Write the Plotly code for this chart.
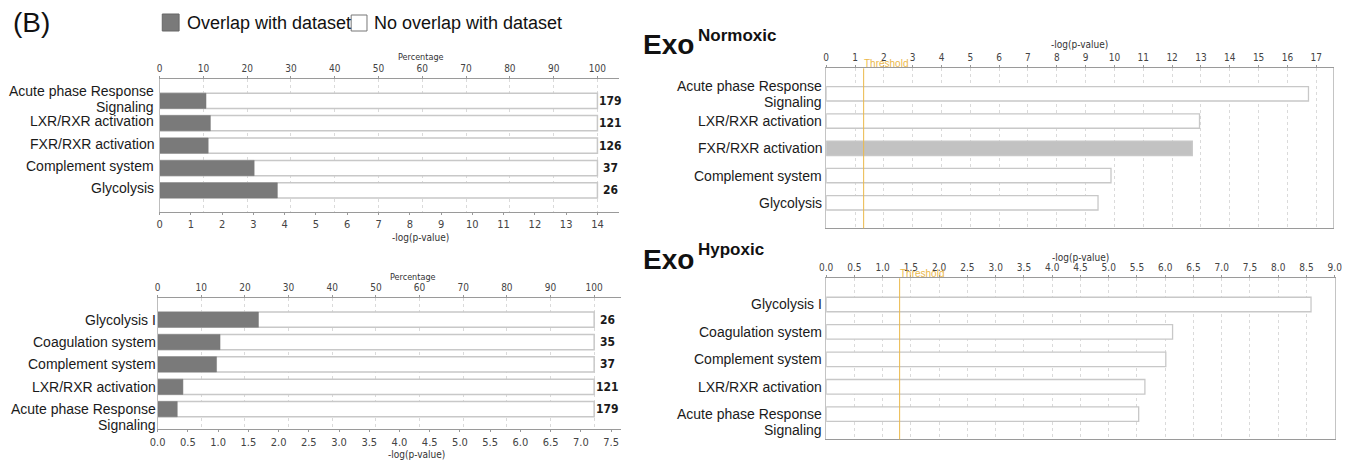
import plotly.graph_objects as go

W, H = 1360, 462

# ---------------- data ----------------
tl_pathways = ["Acute phase Response<br>Signaling", "LXR/RXR activation",
               "FXR/RXR activation", "Complement system", "Glycolysis"]
tl_overlap_pct = [10.6, 11.6, 11.1, 21.6, 26.9]
tl_totals = [179, 121, 126, 37, 26]

bl_pathways = ["Glycolysis I", "Coagulation system", "Complement system",
               "LXR/RXR activation", "Acute phase Response<br>Signaling"]
bl_overlap_pct = [23.1, 14.3, 13.5, 5.8, 4.5]
bl_totals = [26, 35, 37, 121, 179]

nor_pathways = ["Acute phase Response<br>Signaling", "LXR/RXR activation",
                "FXR/RXR activation", "Complement system", "Glycolysis"]
nor_logp = [16.73, 12.95, 12.70, 9.88, 9.43]
nor_highlight = "FXR/RXR activation"

hyp_pathways = ["Glycolysis I", "Coagulation system", "Complement system",
                "LXR/RXR activation", "Acute phase Response<br>Signaling"]
hyp_logp = [8.58, 6.13, 6.01, 5.64, 5.53]

threshold_logp = 1.3
full_pct = 100

pct_ticks = [0, 10, 20, 30, 40, 50, 60, 70, 80, 90, 100]
tl_logp_ticks = [0, 1, 2, 3, 4, 5, 6, 7, 8, 9, 10, 11, 12, 13, 14]
bl_logp_ticks = [0.0, 0.5, 1.0, 1.5, 2.0, 2.5, 3.0, 3.5, 4.0, 4.5, 5.0, 5.5, 6.0, 6.5, 7.0, 7.5]
nor_ticks = [0, 1, 2, 3, 4, 5, 6, 7, 8, 9, 10, 11, 12, 13, 14, 15, 16, 17]
hyp_ticks = [0.0, 0.5, 1.0, 1.5, 2.0, 2.5, 3.0, 3.5, 4.0, 4.5, 5.0, 5.5, 6.0, 6.5, 7.0, 7.5, 8.0, 8.5, 9.0]

legend_labels = ["Overlap with dataset", "No overlap with dataset"]

# ---------------- style ----------------
ARIAL = "Liberation Sans, Arial, sans-serif"
NARROW = "Liberation Sans Narrow, Arial Narrow, DejaVu Sans Condensed, Liberation Sans, Arial, sans-serif"
LABEL_FONT = dict(family=ARIAL, size=14, color="#1a1a1a")
TICK_FONT = dict(family=NARROW, size=10, color="#444444")
TICK_FONT_B = dict(family=NARROW, size=11, color="#444444")
GRAY_BAR = "#7a7a7a"
BAR_EDGE = "#c8c8c8"
HILITE = "#c2c2c2"
THR_COLOR = "#ebb84a"


def xd(a, b):
    return [a / W, b / W]


def yd(top, bottom):
    return [1 - bottom / H, 1 - top / H]


fig = go.Figure()
annotations = []
shapes = []


def overlap_panel(pathways, pct, xref_pct, xref_logp, yref):
    fig.add_trace(go.Bar(x=[full_pct] * len(pathways), y=pathways, orientation="h",
                         xaxis=xref_pct, yaxis=yref, width=0.68,
                         marker=dict(color="white", line=dict(color=BAR_EDGE, width=1.5)),
                         name=legend_labels[1], showlegend=False, hoverinfo="skip"))
    fig.add_trace(go.Bar(x=pct, y=pathways, orientation="h",
                         xaxis=xref_pct, yaxis=yref, width=0.68,
                         marker=dict(color=GRAY_BAR, line=dict(color=GRAY_BAR, width=0.5)),
                         name=legend_labels[0], showlegend=False))
    # empty placeholder so the -log(p-value) scale axis is drawn (no visible mark)
    fig.add_trace(go.Scatter(x=[None], y=[None], xaxis=xref_logp, yaxis=yref,
                             mode="markers", showlegend=False, hoverinfo="skip"))


overlap_panel(tl_pathways, tl_overlap_pct, "x", "x2", "y")
overlap_panel(bl_pathways, bl_overlap_pct, "x3", "x4", "y2")

# ---- Top-right: Exo normoxic ----
fig.add_trace(go.Bar(x=nor_logp, y=nor_pathways, orientation="h",
                     xaxis="x5", yaxis="y3", width=0.53,
                     marker=dict(color=[HILITE if p == nor_highlight else "white" for p in nor_pathways],
                                 line=dict(color=BAR_EDGE, width=1.3)),
                     showlegend=False))

# ---- Bottom-right: Exo hypoxic ----
fig.add_trace(go.Bar(x=hyp_logp, y=hyp_pathways, orientation="h",
                     xaxis="x6", yaxis="y4", width=0.53,
                     marker=dict(color="white", line=dict(color=BAR_EDGE, width=1.3)),
                     showlegend=False))

# ---------------- axes ----------------
common_x = dict(ticks="outside", ticklen=2, tickcolor="#999999", showline=True,
                linecolor="#9a9a9a", linewidth=1.2, zeroline=False, fixedrange=True)
grid = dict(showgrid=True, gridcolor="#dadada", griddash="dot", gridwidth=1)
nogrid = dict(showgrid=False)

TL = dict(x0=153.3, x1=618.0, top=79.3, bottom=211.7)
BL = dict(x0=151.3, x1=620.0, top=298.3, bottom=429.3)
TR = dict(x0=827.3, x1=1340.0, top=68.3, bottom=228.3)
BR = dict(x0=827.3, x1=1342.3, top=278.3, bottom=439.3)

tl_pct_max = (TL["x1"] - TL["x0"]) / 4.427
bl_pct_max = (BL["x1"] - BL["x0"]) / 4.414


def ycat(panel, anchor, cats, rng, mirror=False, color="#bdbdbd"):
    return dict(domain=yd(panel["top"], panel["bottom"]), anchor=anchor, type="category",
                categoryorder="array", categoryarray=cats, range=rng,
                showticklabels=False, ticks="", showgrid=False, zeroline=False,
                showline=True, mirror=mirror, linecolor=color, linewidth=1, fixedrange=True)


layout = dict(
    width=W, height=H, margin=dict(l=0, r=0, t=0, b=0, pad=0),
    paper_bgcolor="white", plot_bgcolor="white", barmode="overlay",
    showlegend=False,
    # top-left: percentage (top) + -log(p) (bottom)
    xaxis=dict(domain=xd(TL["x0"], TL["x1"]), anchor="y", side="top",
               range=[0, tl_pct_max], tickvals=pct_ticks, tickfont=TICK_FONT, **common_x, **grid),
    xaxis2=dict(domain=xd(TL["x0"], TL["x1"]), overlaying="x", anchor="y", side="bottom",
                range=[0, tl_pct_max * 0.14], tickvals=tl_logp_ticks, tickfont=TICK_FONT_B,
                **common_x, **nogrid),
    yaxis=ycat(TL, "x", tl_pathways, [4.95, -0.96]),
    # bottom-left
    xaxis3=dict(domain=xd(BL["x0"], BL["x1"]), anchor="y2", side="top",
                range=[0, bl_pct_max], tickvals=pct_ticks, tickfont=TICK_FONT, **common_x, **grid),
    xaxis4=dict(domain=xd(BL["x0"], BL["x1"]), overlaying="x3", anchor="y2", side="bottom",
                range=[0, bl_pct_max * 0.0722], tickvals=bl_logp_ticks, tickformat=".1f",
                tickfont=TICK_FONT_B, **common_x, **nogrid),
    yaxis2=ycat(BL, "x3", bl_pathways, [4.90, -0.956]),
    # top-right
    xaxis5=dict(domain=xd(TR["x0"], TR["x1"]), anchor="y3", side="top",
                range=[0, (TR["x1"] - TR["x0"]) / 29.15], tickvals=nor_ticks,
                tickfont=TICK_FONT, mirror=True, **common_x, **grid),
    yaxis3=ycat(TR, "x5", nor_pathways, [4.936, -0.936], True, "#c4c4c4"),
    # bottom-right
    xaxis6=dict(domain=xd(BR["x0"], BR["x1"]), anchor="y4", side="top",
                range=[0, (BR["x1"] - BR["x0"]) / 57.14], tickvals=hyp_ticks, tickformat=".1f",
                tickfont=TICK_FONT, mirror=True, **common_x, **grid),
    yaxis4=ycat(BR, "x6", hyp_pathways, [4.915, -0.955], True, "#c4c4c4"),
)


# ---------------- category labels ----------------
def label_annots(pathways, yref, right_px, mode, shift=0.0):
    for i, lab in enumerate(pathways):
        lines = lab.split("<br>")
        n = len(lines)
        for k, line in enumerate(lines):
            if mode == "center":
                off = (k - (n - 1) / 2.0) * 16 + shift
            else:
                off = k * 16 + shift
            annotations.append(dict(xref="paper", x=right_px / W, xanchor="right",
                                    yref=yref, y=i, yanchor="middle", yshift=-off,
                                    text=line, showarrow=False, font=LABEL_FONT,
                                    borderpad=0))


label_annots(tl_pathways, "y", 149.0, "center", -2)
label_annots(bl_pathways, "y2", 150.5, "first", 0)
label_annots(nor_pathways, "y3", 824.0, "center", 0)
label_annots(hyp_pathways, "y4", 824.5, "first", 0)

# gene totals at bar ends
for xref, yref, totals in (("x", "y", tl_totals), ("x3", "y2", bl_totals)):
    for i, t in enumerate(totals):
        annotations.append(dict(xref=xref, x=full_pct, xanchor="center", xshift=13.5,
                                yref=yref, y=i, yanchor="middle", text="<b>%d</b>" % t,
                                showarrow=False, borderpad=0,
                                font=dict(family=NARROW, size=12, color="#1a1a1a")))


# axis titles
def small_title(text, x_px, y_px, size=10):
    annotations.append(dict(xref="paper", yref="paper", x=x_px / W, y=1 - y_px / H,
                            xanchor="center", yanchor="middle", text=text, showarrow=False,
                            borderpad=0, font=dict(family=NARROW, size=size, color="#333333")))


small_title("Percentage", 418, 57, 9)
small_title("-log(p-value)", 417, 237, 10)
small_title("Percentage", 410, 277, 9)
small_title("-log(p-value)", 413, 454, 10)
small_title("-log(p-value)", (TR["x0"] + TR["x1"]) / 2, 45, 10)
small_title("-log(p-value)", (BR["x0"] + BR["x1"]) / 2, 257, 10)

# threshold lines + labels
for xref, yref, ty in (("x5", "y3", 63.5), ("x6", "y4", 273.5)):
    shapes.append(dict(type="line", xref=xref, yref=yref + " domain", x0=threshold_logp,
                       x1=threshold_logp, y0=0, y1=1, line=dict(color=THR_COLOR, width=1)))
    annotations.append(dict(xref=xref, x=threshold_logp, xanchor="left", xshift=-1,
                            yref="paper", y=1 - ty / H, yanchor="middle", text="Threshold",
                            showarrow=False, borderpad=0,
                            font=dict(family=ARIAL, size=10, color=THR_COLOR)))

# panel letter & legend
annotations.append(dict(xref="paper", yref="paper", x=4 / W, y=1 - 22 / H, xanchor="left",
                        yanchor="middle", text="(B)", showarrow=False, borderpad=0,
                        font=dict(family=ARIAL, size=28, color="#111111")))
shapes.append(dict(type="rect", xref="paper", yref="paper", x0=156 / W, x1=173 / W,
                   y0=1 - 31 / H, y1=1 - 14 / H, fillcolor=GRAY_BAR,
                   line=dict(color="#666666", width=1)))
annotations.append(dict(xref="paper", yref="paper", x=180 / W, y=1 - 23 / H, xanchor="left",
                        yanchor="middle", text=legend_labels[0], showarrow=False, borderpad=0,
                        font=dict(family=ARIAL, size=18, color="#111111")))
shapes.append(dict(type="rect", xref="paper", yref="paper", x0=347 / W, x1=363 / W,
                   y0=1 - 31 / H, y1=1 - 15 / H, fillcolor="white",
                   line=dict(color="#777777", width=1)))
annotations.append(dict(xref="paper", yref="paper", x=369 / W, y=1 - 23 / H, xanchor="left",
                        yanchor="middle", text=legend_labels[1], showarrow=False, borderpad=0,
                        font=dict(family=ARIAL, size=18, color="#111111")))

# panel titles
for base_y, sup_text, sup_y in ((45, "Normoxic", 35), (259, "Hypoxic", 249)):
    annotations.append(dict(xref="paper", yref="paper", x=641 / W, y=1 - base_y / H,
                            xanchor="left", yanchor="middle", text="<b>Exo</b>",
                            showarrow=False, borderpad=0,
                            font=dict(family=ARIAL, size=28, color="#111111")))
    annotations.append(dict(xref="paper", yref="paper", x=697 / W, y=1 - sup_y / H,
                            xanchor="left", yanchor="middle", text="<b>%s</b>" % sup_text,
                            showarrow=False, borderpad=0,
                            font=dict(family=ARIAL, size=17, color="#111111")))

layout["annotations"] = annotations
layout["shapes"] = shapes
fig.update_layout(**layout)

fig.write_html("out.html", config={"displayModeBar": False},
               post_script="document.body.style.margin='0px';document.body.style.padding='0px';")
